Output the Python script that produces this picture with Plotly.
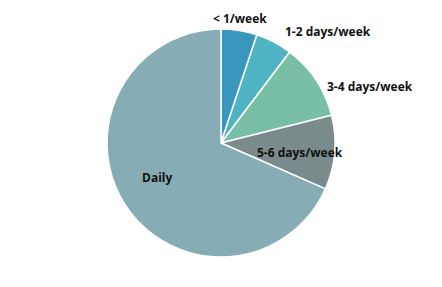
import plotly.graph_objects as go

categories = ["< 1/week", "1-2 days/week", "3-4 days/week", "5-6 days/week", "Daily"]
values = [5.1, 5.2, 10.8, 10.5, 68.4]
colors = ["#3B96BE", "#4FB3C3", "#79BFA6", "#7A8B8B", "#86ADB6"]

# label anchor points in pixels (center of text)
label_px = [(240, 18), (328, 32), (370, 87), (300, 152), (157, 177)]

W, H = 442, 287
fig = go.Figure(go.Pie(
    labels=categories,
    values=values,
    sort=False,
    direction="clockwise",
    rotation=0,
    marker=dict(colors=colors, line=dict(color="white", width=1.5)),
    textinfo="none",
    hoverinfo="label+percent",
    domain=dict(x=[107 / W, 335 / W], y=[1 - 257 / H, 1 - 29 / H]),
    showlegend=False,
))

for lab, (px, py) in zip(categories, label_px):
    fig.add_annotation(
        x=px / W, y=1 - py / H, xref="paper", yref="paper",
        text="<b>" + lab + "</b>", showarrow=False,
        xanchor="center", yanchor="middle",
        font=dict(family="Open Sans", size=12, color="#111111"),
    )

fig.update_layout(
    width=W, height=H,
    margin=dict(l=0, r=0, t=0, b=0),
    paper_bgcolor="white", plot_bgcolor="white",
)
fig.write_html("out.html")
